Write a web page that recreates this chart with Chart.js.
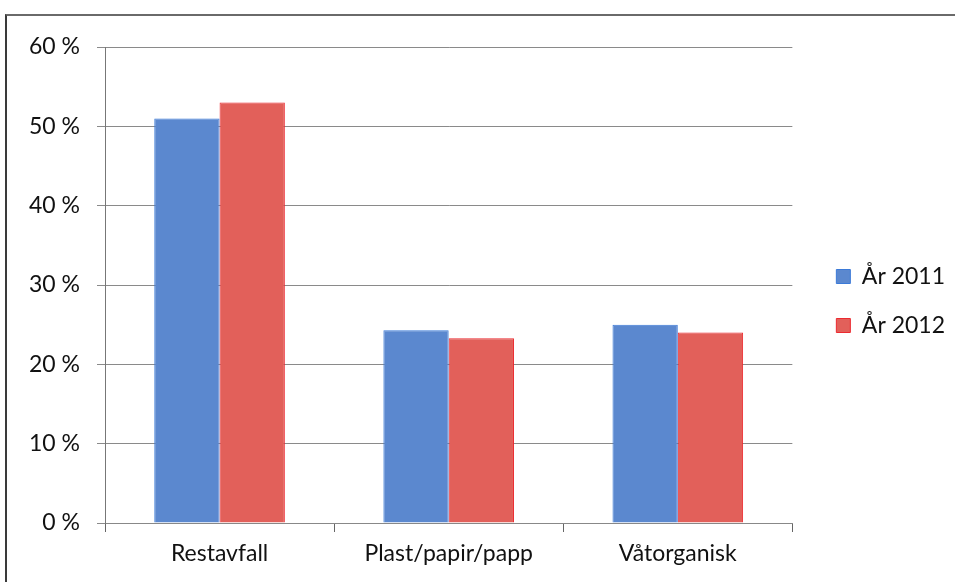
<!DOCTYPE html>
<html>
<head>
<meta charset="utf-8">
<script src="https://cdn.jsdelivr.net/npm/chart.js@4"></script>
<style>
  html,body{margin:0;padding:0;background:#fff;}
  #wrap{position:relative;width:955px;height:582px;overflow:hidden;}
  #frame{position:absolute;left:5px;top:14px;width:1000px;height:700px;border-left:2px solid #3a3a3a;border-top:2px solid #6a6a6a;}
  #c{position:absolute;left:0;top:0;}
</style>
</head>
<body>
<div id="wrap">
  <div id="frame"></div>
  <canvas id="c" width="955" height="582"></canvas>
</div>
<script>
// -------- DATA ----------
const categories = ['Restavfall','Plast/papir/papp','Våtorganisk'];
const series2011 = [51, 24.3, 25];
const series2012 = [53, 23.3, 24];
const seriesNames = ['År 2011','År 2012'];
const yTicks = [0,10,20,30,40,50,60];

const FONT = 'Lato, "Open Sans", sans-serif';

const chartEl = document.getElementById('c');
new Chart(chartEl.getContext('2d'), {
  type:'bar',
  data:{
    labels:categories,
    datasets:[
      {label:seriesNames[0], data:series2011, backgroundColor:'#5b88cf', borderColor:'#3b7ad8', borderWidth:1},
      {label:seriesNames[1], data:series2012, backgroundColor:'#e2605a', borderColor:'#ec2a30', borderWidth:1}
    ]
  },
  options:{
    responsive:false,
    animation:false,
    layout:{padding:{top:47,right:0,left:0,bottom:0}},
    datasets:{bar:{categoryPercentage:0.57, barPercentage:1.0}},
    plugins:{
      tooltip:{enabled:false},
      legend:{
        position:'right',
        fullSize:false,
        title:{display:true, text:' ', font:{size:10}, padding:{top:10, bottom:10}},
        labels:{
          font:{family:FONT, size:23},
          color:'#111',
          boxWidth:14, boxHeight:14,
          padding:26
        }
      }
    },
    scales:{
      x:{
        afterFit:s=>{ s.height = 59; },
        grid:{display:true, drawOnChartArea:false, drawTicks:true, tickLength:9, color:'#666', offset:true},
        border:{display:true, color:'#888'},
        ticks:{font:{family:FONT, size:23}, color:'#111', padding:8}
      },
      y:{
        min:0, max:60,
        afterBuildTicks:s=>{ s.ticks = yTicks.map(v=>({value:v})); },
        afterFit:s=>{ s.width = 105; },
        grid:{color:'#8a8a8a', tickLength:8, lineWidth:1},
        border:{display:true, color:'#777'},
        ticks:{font:{family:FONT, size:23}, color:'#111', padding:17, callback:v=>v+' %'}
      },
      // empty spacer between plot and legend
      gap:{
        type:'linear', position:'right', display:true,
        afterFit:s=>{ s.width = 18; },
        grid:{display:false}, border:{display:false}, ticks:{display:false}
      }
    }
  }
});
</script>
</body>
</html>
